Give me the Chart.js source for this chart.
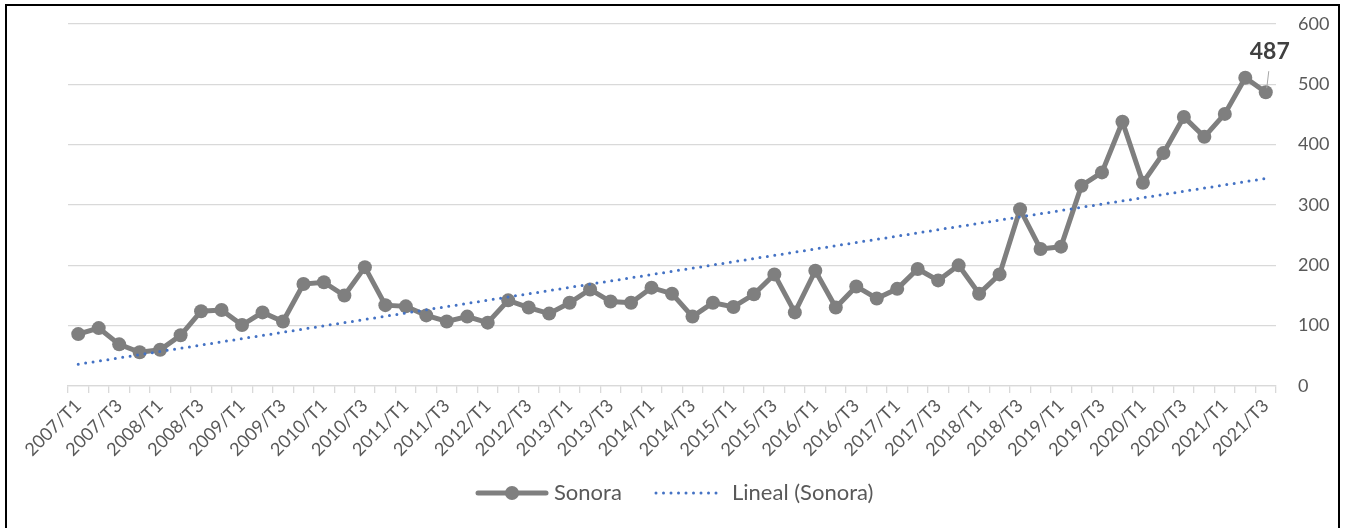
<!DOCTYPE html>
<html>
<head>
<meta charset="utf-8">
<script src="https://cdn.jsdelivr.net/npm/chart.js@4/dist/chart.umd.min.js"></script>
<style>
  html, body { margin: 0; padding: 0; background: #fff; overflow: hidden; }
  #frame { position: absolute; left: 5px; top: 4px; width: 1331px; height: 540px; border: 2px solid #000; }
  #c { position: absolute; left: 0; top: 0; }
</style>
</head>
<body>
<div id="frame"></div>
<canvas id="c" width="1346" height="528"></canvas>
<script>
const years = ['2007', '2008', '2009', '2010', '2011', '2012', '2013', '2014', '2015', '2016', '2017', '2018', '2019', '2020', '2021'];
const quarters = ['T1', 'T2', 'T3', 'T4'];
const labels = [];
years.forEach(y => quarters.forEach(q => labels.push(y + '/' + q)));
labels.length = 59; // ends at 2021/T3

const sonora = [
  86, 96, 69, 56,
  60, 84, 124, 126,
  101, 122, 107, 169,
  172, 150, 197, 134,
  132, 117, 107, 115,
  105, 142, 130, 120,
  138, 160, 140, 138,
  163, 153, 115, 138,
  131, 152, 185, 122,
  191, 130, 165, 145,
  161, 194, 175, 200,
  153, 185, 293, 227,
  231, 332, 354, 438,
  337, 386, 446, 413,
  451, 511, 487
];

// trend line ends
const trendStart = 36;
const trendEnd = 344;

const yTicks = [0, 100, 200, 300, 400, 500, 600];

const FONT = 'Lato';
const GRAY = '#7f7f7f';
const BLUE = '#4472c4';
const TXT = '#595959';

const extras = {
  id: 'extras',
  afterDraw(chart) {
    const ctx = chart.ctx;
    // label for last point
    const meta = chart.getDatasetMeta(0);
    const last = meta.data[meta.data.length - 1];
    ctx.save();
    ctx.strokeStyle = '#a6a6a6';
    ctx.lineWidth = 1;
    ctx.beginPath();
    ctx.moveTo(last.x + 3, last.y - 21);
    ctx.lineTo(last.x + 1, last.y - 4);
    ctx.stroke();
    ctx.fillStyle = '#404040';
    ctx.font = 'bold 23px ' + FONT;
    ctx.textAlign = 'center';
    ctx.textBaseline = 'middle';
    ctx.fillText(String(sonora[sonora.length - 1]), last.x + 4, last.y - 41);

    // legend
    const ly = 493;
    ctx.strokeStyle = GRAY;
    ctx.lineWidth = 5;
    ctx.lineCap = 'round';
    ctx.beginPath();
    ctx.moveTo(478, ly);
    ctx.lineTo(546, ly);
    ctx.stroke();
    ctx.fillStyle = GRAY;
    ctx.beginPath();
    ctx.arc(512, ly, 7, 0, Math.PI * 2);
    ctx.fill();
    ctx.fillStyle = TXT;
    ctx.font = '22px ' + FONT;
    ctx.textAlign = 'left';
    ctx.fillText('Sonora', 554, ly);

    ctx.fillStyle = BLUE;
    for (let x = 656; x <= 723; x += 7.5) {
      ctx.beginPath();
      ctx.arc(x, ly, 1.5, 0, Math.PI * 2);
      ctx.fill();
    }
    ctx.fillStyle = TXT;
    ctx.fillText('Lineal (Sonora)', 732, ly);
    ctx.restore();
  }
};

new Chart(document.getElementById('c'), {
  type: 'line',
  data: {
    labels: labels,
    datasets: [{
      label: 'Sonora',
      data: sonora,
      borderColor: GRAY,
      backgroundColor: GRAY,
      borderWidth: 5,
      pointRadius: 7,
      pointBorderWidth: 0,
      pointBackgroundColor: GRAY,
      tension: 0,
      order: 2
    }, {
      label: 'Lineal (Sonora)',
      data: [{ x: labels[0], y: trendStart }, { x: labels[labels.length - 1], y: trendEnd }],
      borderColor: BLUE,
      borderWidth: 3,
      borderDash: [0, 7.5],
      borderCapStyle: 'round',
      pointRadius: 0,
      tension: 0,
      order: 1
    }]
  },
  options: {
    responsive: false,
    animation: false,
    layout: { padding: { left: 68, top: 24, right: 0, bottom: 0 } },
    plugins: {
      legend: { display: false },
      tooltip: { enabled: false }
    },
    scales: {
      x: {
        offset: true,
        grid: { offset: true, drawOnChartArea: false, drawTicks: true, tickLength: 7, color: '#d9d9d9', lineWidth: 1.3 },
        border: { color: '#d9d9d9', width: 1.3 },
        ticks: {
          autoSkip: false,
          minRotation: 45,
          maxRotation: 45,
          padding: 2,
          color: TXT,
          font: { family: FONT, size: 18 },
          callback: (v, i) => (i % 2 === 0 ? labels[i] : '')
        },
        afterFit: s => {
          s.height = 142;
          s.paddingLeft = 0; s.paddingRight = 0; s.paddingTop = 0; s.paddingBottom = 0;
        }
      },
      y: {
        position: 'right',
        min: yTicks[0],
        max: yTicks[yTicks.length - 1],
        afterBuildTicks: s => { s.ticks = yTicks.map(v => ({ value: v })); },
        grid: { color: '#d9d9d9', lineWidth: 1.3, drawTicks: false },
        border: { display: false },
        ticks: { padding: 22, color: TXT, font: { family: FONT, size: 18 } },
        afterFit: s => {
          s.width = 70;
          s.paddingLeft = 0; s.paddingRight = 0; s.paddingTop = 0; s.paddingBottom = 0;
        }
      }
    }
  },
  plugins: [extras]
});
</script>
</body>
</html>
